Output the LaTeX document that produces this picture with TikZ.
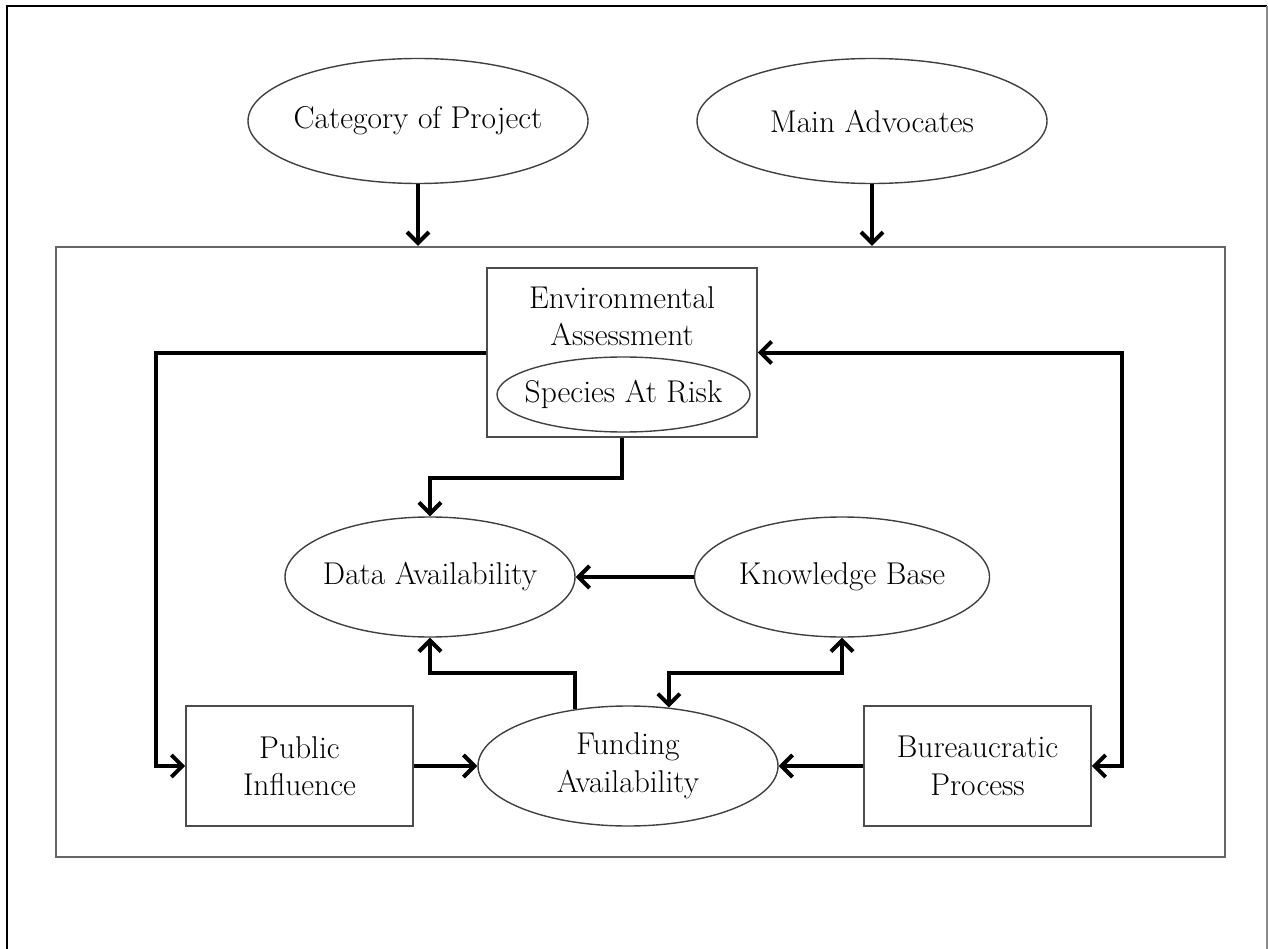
\documentclass[tikz,border=0pt]{standalone}
\usetikzlibrary{arrows.meta,shapes.geometric}
\begin{document}
\begin{tikzpicture}[x=1pt,y=-1pt,
  txt/.style={font=\fontsize{31.5}{37.5}\selectfont, text=black, align=center, inner sep=0pt},
  oval/.style={ellipse, draw=black!75, line width=1.4pt, inner sep=0pt},
  boxnode/.style={rectangle, draw=black!70, line width=1.6pt, inner sep=0pt},
  flow/.style={line width=4pt, black, -{Straight Barb[length=11pt,width=22pt]}},
  flowboth/.style={line width=4pt, black, {Straight Barb[length=11pt,width=22pt]}-{Straight Barb[length=11pt,width=22pt]}}
]
\useasboundingbox (0,0) rectangle (1268,949);

% page frame (open at the bottom)
\draw[line width=2.2pt, black] (7,970) -- (7,6) -- (1267,6);
\draw[line width=2pt, black!45] (1267,6) -- (1267,970);

% outer context nodes
\node[oval, minimum width=340, minimum height=125, label={[txt]center:Category of Project}] (cat) at (418,121) {};
\node[oval, minimum width=350, minimum height=125, label={[txt]center:Main Advocates}] (adv) at (872,121) {};

% system boundary
\node[rectangle, draw=black!60, line width=2.2pt, minimum width=1169, minimum height=610, inner sep=0pt] (sys) at (640.5,552) {};

% environmental assessment with nested species at risk
\node[boxnode, minimum width=270, minimum height=169] (ea) at (622,352.5) {};
\node[txt] (eatxt) at (622,316) {Environmental\\Assessment};
\node[oval, minimum width=253, minimum height=75, label={[txt]center:Species At Risk}] (sar) at (623.5,394.5) {};

% inner factors
\node[oval, minimum width=290, minimum height=120, label={[txt]center:Data Availability}] (data) at (430,577) {};
\node[oval, minimum width=295, minimum height=120, label={[txt]center:Knowledge Base}] (know) at (842,577) {};
\node[oval, minimum width=300, minimum height=120, label={[txt]center:Funding\\Availability}] (fund) at (628,766) {};
\node[boxnode, minimum width=227, minimum height=120, label={[txt]center:Public\\Influence}] (pub) at (299.5,766) {};
\node[boxnode, minimum width=227, minimum height=120, label={[txt]center:Bureaucratic\\Process}] (bur) at (977.5,766) {};

% routing corners
\coordinate (lc) at (156,352.5);
\coordinate (rc) at (1122,352.5);

% connectors
\draw[flow] (cat.south) -- (cat.south |- sys.north);
\draw[flow] (adv.south) -- (adv.south |- sys.north);
\draw[flow] (ea.west) -- (lc) |- (pub.west);
\draw[flowboth] (ea.east) -- (rc) |- (bur.east);
\draw[flow] (ea.south) -- ++(0,40) -| (data.north);
\draw[flow] (know.west) -- (data.east);
\draw[flow] (fund.133) -- ++(0,-36) -| (data.south);
\draw[flowboth] (fund.55) -- ++(0,-35) -| (know.south);
\draw[flow] (pub.east) -- (fund.west);
\draw[flow] (bur.west) -- (fund.east);
\end{tikzpicture}
\end{document}
